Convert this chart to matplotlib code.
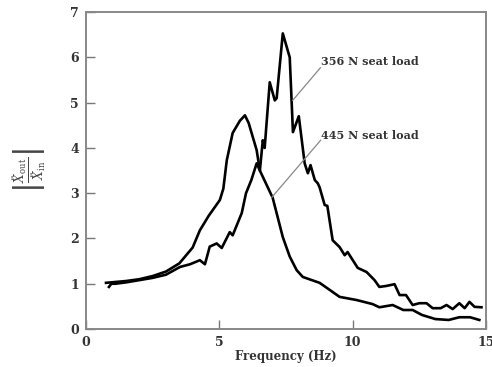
import matplotlib
matplotlib.use("Agg")
import matplotlib.pyplot as plt

# 445 N seat load (smooth curve, peak ~6 Hz)
f445 = [0.75, 1.5, 2.0, 2.5, 3.0, 3.5, 4.0, 4.27, 4.6, 5.02, 5.15, 5.28, 5.5, 5.77, 5.96,
        6.1, 6.4, 6.52, 7.0, 7.38, 7.64, 7.9, 8.13, 8.76, 9.1, 9.51, 10.15, 10.75, 11.0,
        11.5, 11.9, 12.25, 12.6, 13.1, 13.6, 14.0, 14.4, 14.75]
a445 = [1.02, 1.06, 1.1, 1.17, 1.27, 1.45, 1.8, 2.18, 2.5, 2.85, 3.1, 3.73, 4.33, 4.6, 4.72,
        4.55, 3.95, 3.5, 2.9, 2.03, 1.6, 1.3, 1.15, 1.02, 0.88, 0.71, 0.64, 0.55, 0.48,
        0.53, 0.42, 0.42, 0.31, 0.22, 0.2, 0.26, 0.26, 0.2]

# 356 N seat load (jagged curve, peak ~7.4 Hz)
f356 = [0.86, 0.95, 1.1, 1.5, 2.0, 2.5, 3.0, 3.52, 3.9, 4.27, 4.46, 4.64, 4.9, 5.09, 5.39,
        5.5, 5.84, 6.0, 6.2, 6.4, 6.52, 6.63, 6.7, 6.89, 7.08, 7.15, 7.38, 7.64, 7.76,
        7.98, 8.2, 8.32, 8.42, 8.58, 8.69, 8.76, 8.95, 9.05, 9.25, 9.51, 9.7, 9.81,
        10.19, 10.52, 10.82, 11.0, 11.25, 11.57, 11.76, 12.0, 12.25, 12.5, 12.77, 13.0,
        13.3, 13.52, 13.75, 14.0, 14.2, 14.38, 14.57, 14.83]
a356 = [0.93, 1.0, 1.0, 1.03, 1.08, 1.13, 1.2, 1.37, 1.43, 1.52, 1.43, 1.82, 1.89, 1.79, 2.14,
        2.07, 2.56, 3.0, 3.29, 3.66, 3.5, 4.17, 4.0, 5.45, 5.05, 5.1, 6.53, 6.0, 4.35,
        4.7, 3.66, 3.44, 3.62, 3.29, 3.22, 3.13, 2.74, 2.72, 1.96, 1.81, 1.63, 1.7,
        1.35, 1.26, 1.08, 0.93, 0.95, 0.99, 0.75, 0.75, 0.53, 0.57, 0.57, 0.46,
        0.46, 0.53, 0.44, 0.57, 0.46, 0.6, 0.49, 0.48]

xticks = [0, 5, 10, 15]
yticks = [0, 1, 2, 3, 4, 5, 6, 7]

plt.rcParams['font.family'] = ['DejaVu Serif']
plt.rcParams['mathtext.fontset'] = 'dejavuserif'

fig = plt.figure(figsize=(4.92, 3.67), dpi=100)
ax = fig.add_axes([0.1748, 0.1035, 0.8130, 0.8635])

ax.plot(f445, a445, color='black', lw=1.9, solid_joinstyle='round')
ax.plot(f356, a356, color='black', lw=1.9, solid_joinstyle='round')

ax.set_xlim(0, 15)
ax.set_ylim(0, 7)
ax.set_xticks(xticks)
ax.set_yticks(yticks)
ax.tick_params(direction='in', length=6.5, width=1.0, color='#777777',
               labelsize=9, labelcolor='#333333', pad=5)
for lab in ax.get_xticklabels() + ax.get_yticklabels():
    lab.set_fontweight('bold')
for s in ax.spines.values():
    s.set_color('#888888')
    s.set_linewidth(1.4)

ax.set_xlabel('Frequency (Hz)', fontsize=8.5, color='#333333', fontweight='bold', labelpad=1)
ax.set_ylabel(r'$\left|\frac{\ddot{X}_{\rm out}}{\ddot{X}_{\rm in}}\right|$', fontsize=12.5,
              color='#444444', rotation=90, labelpad=16)

ax.text(8.8, 5.9, '356 N seat load', fontsize=8, fontweight='bold', color='#333333',
        va='center', ha='left')
ax.text(8.8, 4.28, '445 N seat load', fontsize=8, fontweight='bold', color='#333333',
        va='center', ha='left')
ax.plot([8.79, 7.75], [5.77, 5.05], color='#888888', lw=0.9)
ax.plot([8.8, 6.97], [4.17, 2.91], color='#888888', lw=0.9)

fig.savefig('out.png', dpi=100)
